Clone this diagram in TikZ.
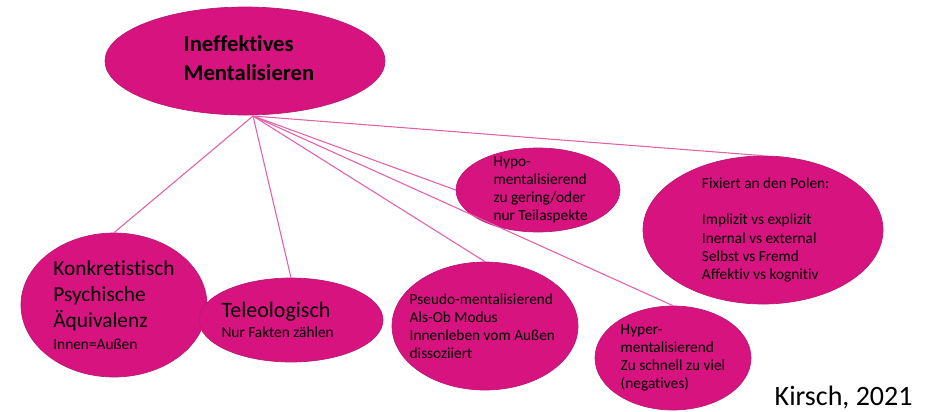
\documentclass[tikz,border=0pt]{standalone}
\usepackage{fontspec}
\setmainfont{Carlito}[Ligatures=NoCommon]
\usetikzlibrary{shapes.geometric}
\definecolor{magfill}{RGB}{214,19,127}
\definecolor{magedge}{RGB}{185,25,115}
\definecolor{spokepink}{RGB}{228,95,168}

\begin{document}
\begin{tikzpicture}[x=0.75pt,y=-0.75pt,
		blob/.style={ellipse,fill=magfill,draw=magedge,line width=0.5pt,inner sep=0pt},
		spoke/.style={draw=spokepink,line width=0.8pt},
		txt/.style={align=left,inner sep=0pt},
		small/.style={txt,font=\fontsize{11.5}{13.6}\selectfont}
		]
		
		\useasboundingbox (0,0) rectangle (935,411);
		
		% ellipses
		\node[blob,minimum width=210pt,minimum height=81pt] (main) at (245,61) {};
		\node[blob,minimum width=139.5pt,minimum height=108pt] (konk) at (114,305) {};
		\node[blob,minimum width=138pt,minimum height=63pt] (teleo) at (291,320) {};
		\node[blob,minimum width=139.5pt,minimum height=96pt] (pseudo) at (485,326) {};
		\node[blob,minimum width=123pt,minimum height=63pt] (hypo) at (538,190) {};
		\node[blob,minimum width=117pt,minimum height=78pt] (hyper) at (673,358) {};
		\node[blob,minimum width=180pt,minimum height=111pt] (fix) at (763,230) {};
		
		% texts
		\node[txt,font=\fontsize{17}{21.5}\selectfont\bfseries,xshift=3pt,yshift=2pt] (main-t) at (main) {Ineffektives\\Mentalisieren};
		\node[txt,font=\fontsize{16}{19.5}\selectfont] (konk-t) at (konk) {Konkretistisch\\Psychische\\Äquivalenz\\[-3pt]\fontsize{11.5}{13.6}\selectfont Innen=Außen};
		\node[txt,font=\fontsize{16.5}{19.5}\selectfont,xshift=-10pt] (teleo-t) at (teleo) {Teleologisch\\[-4pt]\fontsize{11.5}{13.6}\selectfont Nur Fakten zählen};
		\node[small,xshift=-2pt] (pseudo-t) at (pseudo) {Pseudo-mentalisierend\\Als-Ob Modus\\Innenleben vom Außen\\dissoziiert};
		\node[small,xshift=2pt] (hypo-t) at (hypo) {Hypo-\\mentalisierend\\zu gering/oder\\nur Teilaspekte};
		\node[small] (hyper-t) at (hyper) {Hyper-\\mentalisierend\\Zu schnell zu viel\\(negatives)};
		\node[small,xshift=2pt] (fix-t) at (fix) {Fixiert an den Polen:\\[13.6pt]Implizit vs explizit\\Inernal vs external\\Selbst vs Fremd\\Affektiv vs kognitiv};
		
		\coordinate (hub) at (253,116);
		\foreach \t in {konk,teleo,pseudo,hyper,fix}
			\draw[spoke] (hub) -- (\t.north);
		\draw[spoke] (hub) -- (hypo.west);
		
		\node[anchor=base west,font=\fontsize{21}{25}\selectfont] (cite) at (770,405) {Kirsch, 2021};
\end{tikzpicture}
\end{document}
